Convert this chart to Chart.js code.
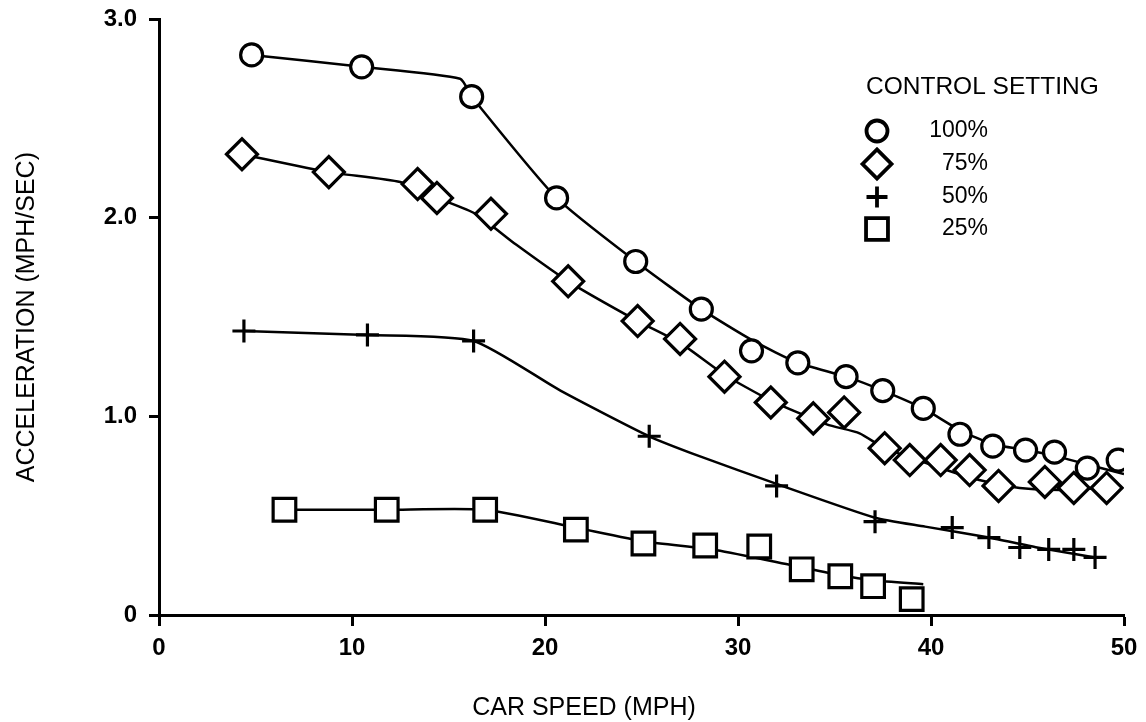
<!DOCTYPE html>
<html>
<head>
<meta charset="utf-8">
<script src="https://cdn.jsdelivr.net/npm/chart.js@4"></script>
<style>
  html, body { margin: 0; padding: 0; background: #fff; }
  #wrap { width: 1146px; height: 722px; position: relative; }
</style>
</head>
<body>
<div id="wrap"><canvas id="c" width="1146" height="722"></canvas></div>
<script>
// ---- data ----
const seriesLabels = ['100%', '75%', '50%', '25%'];
const legendTitle = 'CONTROL SETTING';
const xTitle = 'CAR SPEED (MPH)';
const yTitle = 'ACCELERATION (MPH/SEC)';
const xTickValues = [0, 10, 20, 30, 40, 50];
const xTickLabels = ['0', '10', '20', '30', '40', '50'];
const yTickValues = [0, 1, 2, 3];
const yTickLabels = ['0', '1.0', '2.0', '3.0'];

// measured points
const speed100 = [4.8, 10.5, 16.2, 20.6, 24.7, 28.1, 30.7, 33.1, 35.6, 37.5, 39.6, 41.5, 43.2, 44.9, 46.4, 48.1, 49.7];
const accel100 = [2.82, 2.76, 2.61, 2.10, 1.78, 1.54, 1.33, 1.27, 1.20, 1.13, 1.04, 0.91, 0.85, 0.83, 0.82, 0.74, 0.78];
const speed75 = [4.3, 8.8, 13.4, 14.4, 17.2, 21.2, 24.8, 27.0, 29.3, 31.7, 33.9, 35.5, 37.6, 38.9, 40.5, 42.0, 43.5, 45.9, 47.4, 49.1];
const accel75 = [2.32, 2.23, 2.17, 2.10, 2.02, 1.68, 1.48, 1.39, 1.20, 1.07, 0.99, 1.02, 0.84, 0.78, 0.78, 0.73, 0.65, 0.67, 0.64, 0.64];
const speed50 = [4.4, 10.8, 16.3, 25.4, 32.0, 37.1, 41.1, 43.0, 44.6, 46.1, 47.4, 48.5];
const accel50 = [1.43, 1.41, 1.38, 0.90, 0.65, 0.47, 0.44, 0.39, 0.34, 0.33, 0.33, 0.29];
const speed25 = [6.5, 11.8, 16.9, 21.6, 25.1, 28.3, 31.1, 33.3, 35.3, 37.0, 39.0];
const accel25 = [0.53, 0.53, 0.53, 0.43, 0.36, 0.35, 0.345, 0.23, 0.195, 0.145, 0.08];

// hand-drawn fit curves
const fitX100 = [4.8, 10.5, 15.6, 16.2, 20.6, 24.7, 28.1, 30.8, 33.1, 35.6, 37.5, 39.6, 41.5, 43.2, 45.0, 46.5, 48.0, 50.0];
const fitY100 = [2.82, 2.76, 2.70, 2.61, 2.10, 1.78, 1.54, 1.38, 1.27, 1.20, 1.13, 1.04, 0.93, 0.86, 0.83, 0.80, 0.76, 0.71];
const fitX75 = [4.3, 8.8, 12.5, 14.4, 16.4, 18.5, 21.2, 24.8, 27.0, 29.3, 31.7, 34.6, 36.3, 37.6, 40.8, 42.5, 44.6, 46.7, 49.1];
const fitY75 = [2.32, 2.23, 2.18, 2.10, 2.02, 1.865, 1.68, 1.48, 1.37, 1.21, 1.08, 0.96, 0.915, 0.84, 0.73, 0.68, 0.64, 0.63, 0.64];
const fitX50 = [4.4, 10.8, 16.3, 20.8, 25.4, 28.0, 32.0, 37.1, 39.7, 43.0, 45.5, 48.5];
const fitY50 = [1.43, 1.41, 1.38, 1.13, 0.90, 0.80, 0.66, 0.49, 0.445, 0.39, 0.34, 0.29];
const fitX25 = [6.5, 11.8, 16.9, 21.6, 25.2, 28.9, 32.8, 35.3, 37.0, 39.6];
const fitY25 = [0.53, 0.53, 0.53, 0.44, 0.37, 0.326, 0.25, 0.20, 0.175, 0.155];

// ---- build ----
const FONT = '"Liberation Sans", Arial, Helvetica, sans-serif';
const pts = (xs, ys) => xs.map((x, i) => ({ x: x, y: ys[i] }));

const markerStyles = [
  { pointStyle: 'circle', radius: 11 },
  { pointStyle: 'rectRot', radius: 15.5 },
  { pointStyle: 'cross', radius: 11.5 },
  { pointStyle: 'rect', radius: 16 }
];
const markerData = [pts(speed100, accel100), pts(speed75, accel75), pts(speed50, accel50), pts(speed25, accel25)];
const fitData = [pts(fitX100, fitY100), pts(fitX75, fitY75), pts(fitX50, fitY50), pts(fitX25, fitY25)];

const datasets = [];
markerData.forEach((d, i) => {
  datasets.push({
    label: seriesLabels[i],
    data: d,
    showLine: false,
    pointStyle: markerStyles[i].pointStyle,
    pointRadius: markerStyles[i].radius,
    pointBorderWidth: 3.2,
    pointBorderColor: '#000',
    pointBackgroundColor: '#fff',
    order: 0
  });
});
fitData.forEach((d, i) => {
  datasets.push({
    label: seriesLabels[i] + ' fit',
    data: d,
    showLine: true,
    borderColor: '#000',
    borderWidth: 2.5,
    pointRadius: 0,
    tension: 0.2,
    fill: false,
    order: 1
  });
});

const legendPlugin = {
  id: 'ctlLegend',
  afterDraw(chart) {
    const ctx = chart.ctx;
    ctx.save();
    ctx.fillStyle = '#000';
    ctx.font = '24.5px ' + FONT;
    ctx.textAlign = 'left';
    ctx.textBaseline = 'middle';
    ctx.fillText(legendTitle, 866, 87);
    const rows = [131, 164, 197, 229];
    ctx.font = '23px ' + FONT;
    ctx.textAlign = 'right';
    seriesLabels.forEach((lab, i) => {
      const ms = markerStyles[i];
      ctx.strokeStyle = '#000';
      ctx.fillStyle = '#fff';
      ctx.lineWidth = 3.8;
      Chart.helpers.drawPoint(ctx, { pointStyle: ms.pointStyle, radius: i === 1 ? 14.5 : (i === 3 ? 15.5 : 10.5), rotation: 0, borderWidth: 3.8 }, 877, rows[i]);
      ctx.fillStyle = '#000';
      ctx.fillText(lab, 988, rows[i]);
    });
    // x-axis title
    ctx.font = '25px ' + FONT;
    ctx.textAlign = 'center';
    ctx.textBaseline = 'middle';
    ctx.fillText(xTitle, 584, 708);
    ctx.restore();
  }
};

new Chart(document.getElementById('c'), {
  type: 'scatter',
  data: { datasets: datasets },
  options: {
    responsive: false,
    animation: false,
    layout: { padding: { top: 17, right: 22, left: 0, bottom: 0 } },
    plugins: { legend: { display: false }, tooltip: { enabled: false } },
    scales: {
      x: {
        type: 'linear',
        min: 0, max: 50,
        afterFit(s) { s.height = 107; s.paddingLeft = 0; s.paddingRight = 0; },
        afterBuildTicks(s) { s.ticks = xTickValues.map(v => ({ value: v })); },
        border: { display: true, color: '#000', width: 3 },
        grid: { drawOnChartArea: false, drawTicks: true, tickLength: 11, tickWidth: 3, color: '#000' },
        ticks: {
          color: '#000', padding: 8,
          font: { family: FONT, size: 24, weight: 'bold' },
          maxRotation: 0,
          callback: (v) => xTickLabels[xTickValues.indexOf(v)]
        },
        title: { display: false }
      },
      y: {
        type: 'linear',
        min: 0, max: 3,
        afterFit(s) { s.width = 159; s.paddingTop = 0; s.paddingBottom = 0; },
        afterBuildTicks(s) { s.ticks = yTickValues.map(v => ({ value: v })); },
        border: { display: true, color: '#000', width: 3 },
        grid: { drawOnChartArea: false, drawTicks: true, tickLength: 10, tickWidth: 3, color: '#000' },
        ticks: {
          color: '#000', padding: 12,
          font: { family: FONT, size: 24, weight: 'bold' },
          callback: (v) => yTickLabels[yTickValues.indexOf(v)]
        },
        title: {
          display: true, text: yTitle, color: '#000',
          font: { family: FONT, size: 25 },
          padding: { top: 12, bottom: 0 }
        }
      }
    }
  },
  plugins: [legendPlugin]
});
</script>
</body>
</html>
